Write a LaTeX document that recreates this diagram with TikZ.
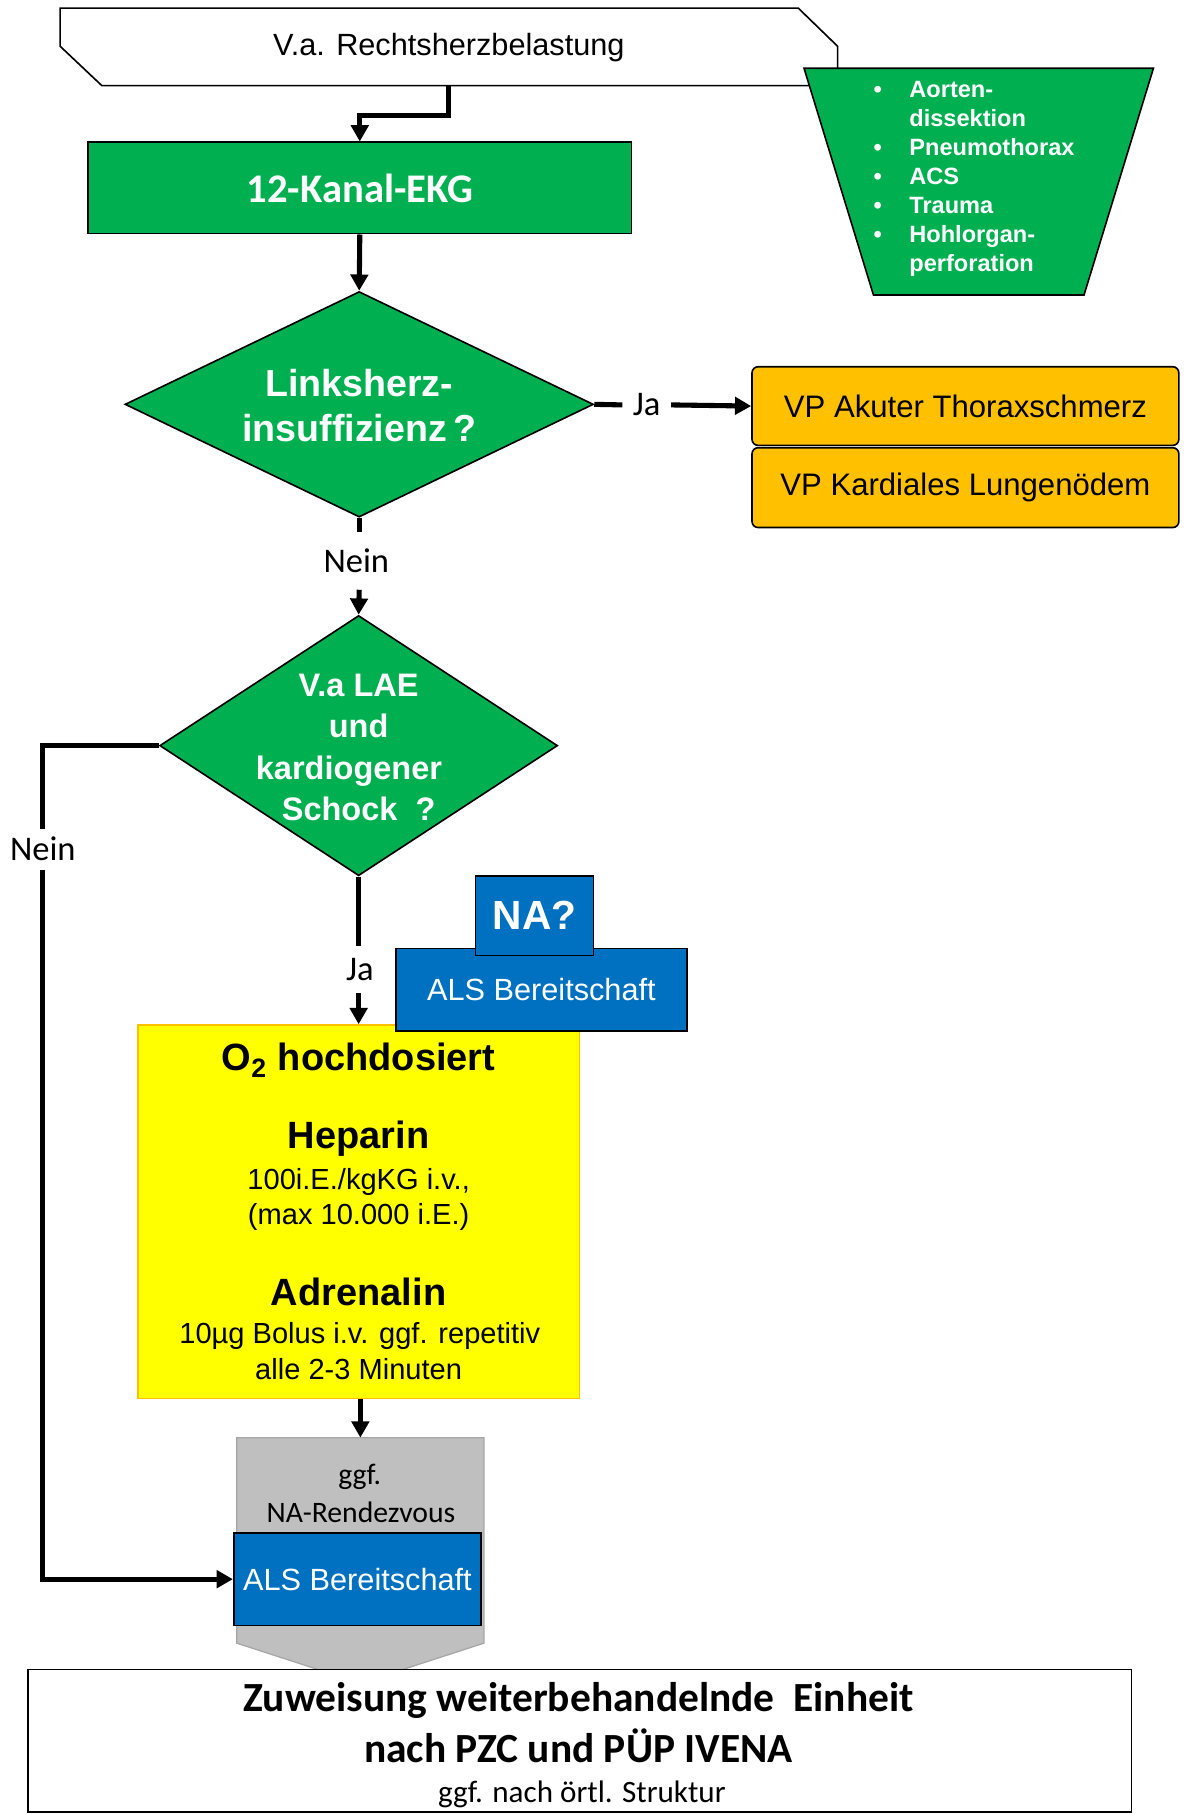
\documentclass[tikz,border=0pt]{standalone}
\usepackage{fontspec}
\setmainfont{Liberation Sans}
\newfontfamily\calfont{Carlito}
\usetikzlibrary{arrows.meta,shapes.geometric}
\definecolor{gr}{HTML}{00B050}
\definecolor{og}{HTML}{FFC000}
\definecolor{bl}{HTML}{0070C0}
\definecolor{ye}{HTML}{FFFF00}
\definecolor{gy}{HTML}{BFBFBF}
\newcommand\myfs[2]{\fontsize{#1}{#2}\selectfont}
\begin{document}
\begin{tikzpicture}[x=0.02cm,y=-0.02cm,
  box/.style={draw=black, line width=0.8pt, inner sep=0pt, align=center},
  dia/.style={diamond, draw=black, line width=0.8pt, fill=gr, inner sep=0pt},
  conn/.style={line width=2.5pt},
  arr/.style={line width=2.5pt, -{Triangle[length=8pt,width=8.5pt]}},
  lbl/.style={font=\calfont\myfs{17}{20}, inner sep=4pt},
  txt/.style={inner sep=0pt, align=center}]
\useasboundingbox (0,0) rectangle (1023,1568);

% banner
\draw[line width=0.8pt, fill=white] (52,7) -- (690,7) -- (724,40) -- (724,74) -- (88,74) -- (52,40) -- cycle;
\node[txt, font=\myfs{15.1}{18}] (banner) at (388,41.5) {V.a. Rechtsherzbelastung};
\coordinate (bannerbot) at (388,74);

% trapezoid with differential diagnoses
\draw[line width=0.8pt, fill=gr] (695,59) -- (997,59) -- (937,255) -- (755,255) -- cycle;
\node[txt, text=white, font=\bfseries\myfs{11.6}{14.3}] (diff) at (842,154.5)
  {\begin{tabular}{@{}l@{\hspace{13.5pt}}l@{}}
   \textbullet & Aorten-\\
               & dissektion\\
   \textbullet & Pneumothorax\\
   \textbullet & ACS\\
   \textbullet & Trauma\\
   \textbullet & Hohlorgan-\\
               & perforation
   \end{tabular}};

% 12-Kanal-EKG
\node[box, fill=gr, minimum width=9.4cm, minimum height=1.58cm, text=white,
      font=\calfont\bfseries\myfs{20}{24}] (ekg) at (311,162.5) {12-Kanal-EKG};

% diamond 1
\node[dia, minimum width=8.1cm, minimum height=3.9cm] (d1) at (310.5,349.5) {};
\node[txt, text=white, font=\bfseries\myfs{18.5}{22}] (d1t) at (310.5,350.5) {Linksherz-\\insuffizienz\,?};

% orange boxes
\node[box, fill=og, rounded corners=3pt, minimum width=7.38cm, minimum height=1.36cm,
      font=\myfs{15.3}{18}] (vp1) at (834.5,351) {VP Akuter Thoraxschmerz};
\node[box, fill=og, rounded corners=3pt, minimum width=7.38cm, minimum height=1.38cm,
      font=\myfs{15.3}{18}] (vp2) at (834.5,421.5) {VP Kardiales Lungenödem};

% diamond 2
\node[dia, minimum width=6.88cm, minimum height=4.5cm] (d2) at (310,644.5) {};
\node[txt, text=white, font=\bfseries\myfs{16}{20.4}] (d2t) at (310,646) {V.a LAE\\und\\kardiogener\rule{9.5pt}{0pt}\\Schock\ \ ?};

% yellow box
\node[draw=og, line width=0.8pt, fill=ye, minimum width=7.64cm, minimum height=6.46cm, inner sep=0pt] (yb) at (310,1047.5) {};
\node[txt, font=\bfseries\myfs{18.7}{22}] (y1) at (310,916.5) {O\textsubscript{2} hochdosiert};
\node[txt, font=\bfseries\myfs{18.7}{22}] (y2) at (310,984.5) {Heparin};
\node[txt, font=\myfs{14.3}{17}] (y3) at (310,1021.5) {100i.E./kgKG i.v.,};
\node[txt, font=\myfs{14.3}{17}] (y4) at (310,1051.5) {(max 10.000 i.E.)};
\node[txt, font=\bfseries\myfs{18.7}{22}] (y5) at (310,1117) {Adrenalin};
\node[txt, font=\myfs{14.3}{17}] (y6) at (311,1154.5) {10µg Bolus i.v. ggf. repetitiv};
\node[txt, font=\myfs{14.3}{17}] (y7) at (310,1183.5) {alle 2-3 Minuten};

% ALS 1 and NA?
\node[box, fill=bl, text=white, minimum width=5.04cm, minimum height=1.42cm,
      font=\myfs{15.1}{18}] (als1) at (468,855.5) {ALS Bereitschaft};
\node[box, fill=bl, text=white, minimum width=2.04cm, minimum height=1.38cm,
      font=\bfseries\myfs{20}{24}] (na) at (462,791.5) {NA?};

% grey rendezvous shape
\node[minimum width=4.26cm, minimum height=3.54cm, inner sep=0pt] (grey) at (311.5,1331.5) {};
\draw[draw=gray!70, line width=0.6pt, fill=gy] (grey.north west) -- (grey.north east) -- (grey.south east)
   -- (311.5,1455) -- (grey.south west) -- cycle;
\node[txt, font=\calfont\myfs{14.6}{17}] (g1) at (311,1277) {ggf.};
\node[txt, font=\calfont\myfs{14.6}{17}] (g2) at (312,1307) {NA-Rendezvous};
\node[box, fill=bl, text=white, minimum width=4.28cm, minimum height=1.6cm,
      font=\myfs{15.1}{18}] (als2) at (309,1365) {ALS Bereitschaft};

% bottom box
\node[box, fill=white, minimum width=19.08cm, minimum height=2.46cm] (zu) at (501,1504.5) {};
\node[txt, font=\calfont\bfseries\myfs{20.4}{25}] (zu1) at (500,1489) {Zuweisung weiterbehandelnde\ \ Einheit\\nach PZC und PÜP IVENA};
\node[txt, font=\calfont\myfs{15.3}{18}] (zu2) at (503,1551) {ggf. nach örtl. Struktur};

% labels
\node[lbl, inner sep=5pt] (ja1) at (559,350) {Ja};
\node[lbl, inner sep=8pt] (nein1) at (308,485) {Nein};
\node[lbl, inner sep=4pt] (nein2) at (37,734) {Nein};
\node[lbl, inner sep=6pt] (ja2) at (311,838) {Ja};

% connectors
\draw[arr] (bannerbot) -- ++(0,26) -| (ekg.north);
\draw[arr] (ekg.south) -- (d1.north);
\draw[conn] (d1.east) -- (ja1.west);
\draw[arr] (ja1.east) -- (vp1.west);
\draw[conn] (d1.south) -- (d1.south |- nein1.north);
\draw[arr] (d1.south |- nein1.south) -- (d2.north);
\draw[conn] (d2.west) -| (nein2.north);
\draw[arr] (nein2.south) |- (als2.west);
\draw[conn] (d2.south) -- (d2.south |- ja2.north);
\draw[arr] (d2.south |- ja2.south) -- (d2.south |- yb.north);
\draw[arr] (yb.south -| grey.north) -- (grey.north);
\end{tikzpicture}
\end{document}
